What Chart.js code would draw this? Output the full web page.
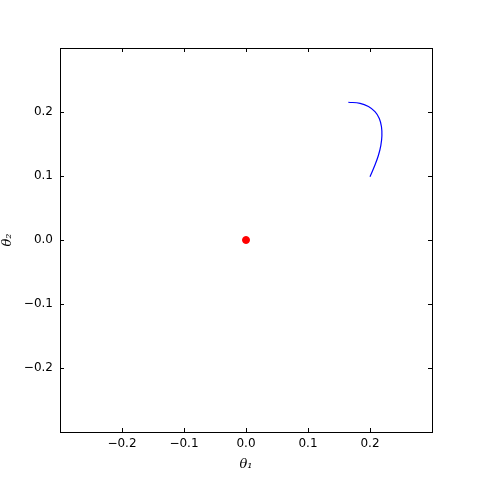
<!DOCTYPE html>
<html><head><meta charset="utf-8">
<script src="https://cdn.jsdelivr.net/npm/chart.js@4"></script>
<style>html,body{margin:0;padding:0;background:#fff}#wrap{width:480px;height:480px}</style>
</head><body><div id="wrap"><canvas id="c" width="480" height="480"></canvas></div>
<script>
const curveX = [0.165, 0.184, 0.1975, 0.208, 0.215, 0.2185, 0.2192, 0.2175, 0.2135, 0.2075, 0.2];
const curveY = [0.2152, 0.2136, 0.2085, 0.2005, 0.19, 0.177, 0.163, 0.148, 0.132, 0.116, 0.099];
const pointX = [0.0];
const pointY = [0.0];
const tickVals = [-0.2, -0.1, 0.0, 0.1, 0.2];
const axisMin = -0.3, axisMax = 0.3;

const fmt = v => { const s = (Math.abs(v) < 1e-9 ? 0 : v).toFixed(1); return s.replace('-', '\u2212'); };

const framePlugin = {
  id: 'frame',
  afterDatasetsDraw(chart) {
    const {ctx, chartArea: a, scales} = chart;
    ctx.save();
    ctx.strokeStyle = '#000';
    ctx.lineWidth = 1;
    const L = 4;
    ctx.beginPath();
    tickVals.forEach(v => {
      const x = Math.round(scales.x.getPixelForValue(v)) + 0.5;
      ctx.moveTo(x, a.bottom); ctx.lineTo(x, a.bottom - L);
      ctx.moveTo(x, a.top); ctx.lineTo(x, a.top + L);
      const y = Math.round(scales.y.getPixelForValue(v)) + 0.5;
      ctx.moveTo(a.left, y); ctx.lineTo(a.left + L, y);
      ctx.moveTo(a.right, y); ctx.lineTo(a.right - L, y);
    });
    ctx.stroke();
    ctx.strokeRect(Math.round(a.left) + 0.5, Math.round(a.top) + 0.5, Math.round(a.right - a.left), Math.round(a.bottom - a.top));
    ctx.restore();
  }
};

new Chart(document.getElementById('c'), {
  type: 'scatter',
  data: {
    datasets: [
      { data: curveX.map((x, i) => ({x, y: curveY[i]})), showLine: true, borderColor: '#0000ff', borderWidth: 1.2, pointRadius: 0, tension: 0.4, fill: false },
      { data: pointX.map((x, i) => ({x, y: pointY[i]})), backgroundColor: '#ff0000', borderColor: '#ff0000', pointRadius: 3.5, showLine: false }
    ]
  },
  options: {
    responsive: false,
    animation: false,
    devicePixelRatio: 1,
    layout: { padding: { left: 0, top: 48, right: 48, bottom: 0 } },
    plugins: { legend: { display: false }, tooltip: { enabled: false } },
    scales: {
      x: {
        type: 'linear', min: axisMin, max: axisMax,
        afterBuildTicks: s => { s.ticks = tickVals.map(v => ({value: v})); },
        afterFit: s => { s.height = 48; },
        grid: { display: false, drawTicks: false }, border: { display: false },
        ticks: { callback: v => fmt(v), color: '#000', font: { family: 'DejaVu Sans', size: 12 }, padding: 5, maxRotation: 0 },
        title: { display: true, text: '\u03b8\u2081', color: '#000', font: { family: 'DejaVu Serif', size: 13, style: 'italic' }, padding: { top: 0, bottom: 8 } }
      },
      y: {
        type: 'linear', min: axisMin, max: axisMax,
        afterBuildTicks: s => { s.ticks = tickVals.map(v => ({value: v})); },
        afterFit: s => { s.width = 60; },
        grid: { display: false, drawTicks: false }, border: { display: false },
        ticks: { callback: v => fmt(v), color: '#000', font: { family: 'DejaVu Sans', size: 12 }, padding: 7 },
        title: { display: true, text: '\u03b8\u2082', color: '#000', font: { family: 'DejaVu Serif', size: 13, style: 'italic' }, padding: { top: 0, bottom: 0 } }
      }
    }
  },
  plugins: [framePlugin]
});
</script>
</body></html>
